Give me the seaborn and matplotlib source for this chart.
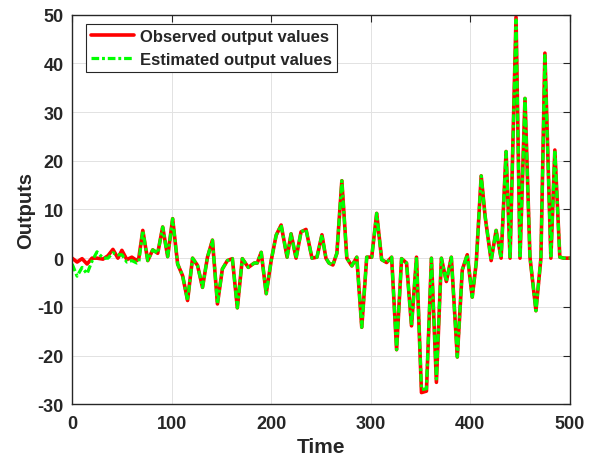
import matplotlib
matplotlib.use("Agg")
import matplotlib.pyplot as plt
import numpy as np
import pandas as pd
import seaborn as sns

# Sample times of the recorded series
time = [0, 5, 10, 15, 20, 25, 31, 36, 41, 46, 50, 55, 60, 65, 67,
        71, 76, 81, 86, 91, 96, 101, 106, 111, 116, 121, 126, 131, 136, 141,
        146, 151, 156, 161, 166, 171, 177, 183, 186, 190, 195, 200, 205, 210,
        216, 220, 225, 230, 235, 241, 246, 251, 255, 258, 262, 266, 271, 276,
        281, 286, 291, 296, 301, 306, 311, 316, 321, 326, 331, 336, 341, 346,
        351, 356, 361, 366, 371, 376, 381, 387, 392, 397, 402, 406, 411, 415,
        421, 426, 431, 436, 440, 446, 450, 455, 460, 466, 471, 475, 481, 485,
        490, 494, 500]

observed = [0.0, -0.8, -0.1, -1.2, 0.0, 0.0, -0.2, 0.5, 1.8, 0.0, 1.6, -0.3, 0.2, -0.5, 0.0,
            5.7, -0.5, 1.7, 1.0, 6.4, 0.3, 8.1, -1.2, -3.6, -8.7, 0.0, -1.5, -6.0, 0.2, 3.7,
            -9.4, -2.2, -0.5, -0.1, -10.2, -0.1, -1.9, -1.0, -1.0, 1.2, -7.3, -0.5, 4.7, 6.8,
            0.2, 5.0, 0.0, 5.4, 5.9, 0.0, 0.2, 4.8, 0.0, -1.0, -1.4, 1.0, 15.9, 0.0,
            -1.6, 0.2, -14.2, 0.2, 0.2, 9.2, -0.3, -0.9, 0.2, -18.8, -0.1, -1.0, -13.9, 0.2,
            -27.6, -27.3, 0.0, -25.5, 0.0, -4.8, 0.2, -20.3, -2.4, 0.7, -8.0, -1.0, 16.9, 8.5,
            -0.5, 5.7, 0.0, 21.9, 0.0, 49.5, 0.0, 32.8, 0.2, -10.8, 0.0, 42.1, 0.0, 22.2,
            0.2, 0.0, 0.0]

estimated = [-1.2, -3.7, -1.9, -3.2, -0.6, 1.3, 0.0, 0.0, 1.1, 0.7, 0.7, -0.8, -0.5, -1.0, -0.8,
             5.7, -0.5, 1.7, 1.0, 6.4, 0.3, 8.1, -1.2, -3.6, -8.7, 0.0, -1.5, -6.0, 0.2, 3.7,
             -9.4, -2.2, -0.5, -0.1, -10.2, -0.1, -1.9, -1.0, -1.0, 1.2, -7.3, -0.5, 4.7, 6.8,
             0.2, 5.0, 0.0, 5.4, 5.9, 0.0, 0.2, 4.8, 0.0, -1.0, -1.4, 1.0, 15.9, 0.0,
             -1.6, 0.2, -14.2, 0.2, 0.2, 9.2, -0.3, -0.9, 0.2, -18.8, -0.1, -1.0, -13.9, 0.2,
             -27.0, -26.8, 0.0, -24.8, 0.0, -4.8, 0.2, -20.3, -2.4, 0.7, -8.0, -1.0, 16.9, 8.5,
             -0.5, 5.7, 0.0, 21.9, 0.0, 48.9, 0.0, 32.8, 0.2, -10.8, 0.0, 41.6, 0.0, 22.2,
             0.2, 0.0, 0.0]

x_ticks = [0, 100, 200, 300, 400, 500]
y_ticks = [-30, -20, -10, 0, 10, 20, 30, 40, 50]

df = pd.DataFrame({"Time": time, "Observed": observed, "Estimated": estimated})

sns.set_style("white")
plt.rcParams["font.family"] = ["Liberation Sans", "DejaVu Sans"]
plt.rcParams["font.weight"] = "bold"
plt.rcParams["axes.unicode_minus"] = False

ink = "#262626"
fig = plt.figure(figsize=(5.96, 4.60), dpi=100)
ax = fig.add_axes([0.121, 0.119, 0.835, 0.847])

sns.lineplot(data=df, x="Time", y="Observed", ax=ax, color=(1, 0, 0),
             linewidth=2.6, estimator=None, label="Observed output values")
sns.lineplot(data=df, x="Time", y="Estimated", ax=ax, color=(0, 1, 0),
             linewidth=2.3, estimator=None, label="Estimated output values",
             linestyle=(0, (2.4, 0.9, 0.9, 0.9)), dash_capstyle="butt")

ax.set_xlim(0, 500)
ax.set_ylim(-30, 50)
ax.set_xticks(x_ticks)
ax.set_yticks(y_ticks)
ax.grid(True, color="#e2e2e2", linewidth=0.7)
ax.set_axisbelow(True)

for side in ["left", "right", "top", "bottom"]:
    ax.spines[side].set_visible(True)
    ax.spines[side].set_color(ink)
    ax.spines[side].set_linewidth(1.0)
ax.tick_params(direction="in", length=5, width=0.8, colors=ink,
               top=True, right=True, labelsize=13, pad=6)
ax.tick_params(axis="x", pad=8)
for lbl in ax.get_xticklabels() + ax.get_yticklabels():
    lbl.set_fontweight("bold")

ax.set_xlabel("Time", fontsize=15, fontweight="bold", color=ink, labelpad=3)
ax.set_ylabel("Outputs", fontsize=14.5, fontweight="bold", color=ink, labelpad=2)

leg = ax.legend(loc="upper left", bbox_to_anchor=(0.018, 0.99), frameon=True,
                fancybox=False, edgecolor=ink, framealpha=1,
                prop={"weight": "bold", "size": 12}, handlelength=2.6,
                handletextpad=0.35, borderpad=0.3, labelspacing=0.52,
                borderaxespad=0.3)
leg.get_frame().set_linewidth(0.8)

fig.savefig("out.png", dpi=100)
